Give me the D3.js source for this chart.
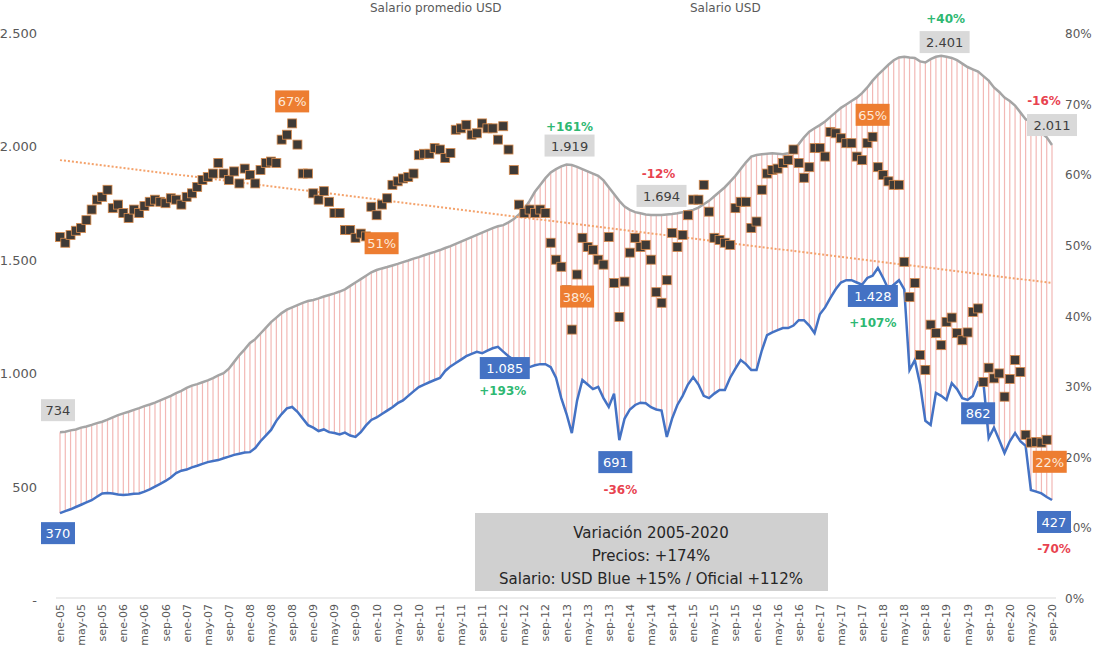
<!DOCTYPE html>
<html>
<head>
<meta charset="utf-8">
<script src="https://cdn.jsdelivr.net/npm/d3@7"></script>
<style>
body { margin: 0; background: #fff; }
text { font-family: "DejaVu Sans", sans-serif; }
</style>
</head>
<body>
<svg id="chart" width="1101" height="655"></svg>
<script>
// salario promedio USD oficial (mensual, ene-05 .. sep-20)
var oficial = [
 740,742,748,752,760,765,772,780,786,795,805,815,
 823,830,838,846,855,862,870,880,890,900,912,922,
 935,945,952,960,968,978,990,1000,1020,1050,1080,1105,
 1133,1150,1175,1200,1225,1245,1265,1280,1290,1300,1310,1318,
 1323,1330,1338,1345,1352,1360,1370,1385,1400,1415,1430,1445,
 1455,1462,1468,1475,1482,1490,1497,1505,1512,1520,1528,1535,
 1543,1552,1560,1570,1580,1590,1600,1610,1620,1630,1640,1648,
 1653,1665,1680,1700,1725,1760,1800,1830,1860,1885,1900,1912,
 1920,1918,1910,1900,1890,1880,1870,1850,1820,1790,1760,1735,
 1720,1710,1705,1700,1698,1697,1698,1700,1702,1705,1710,1715,
 1720,1730,1745,1760,1780,1800,1820,1845,1870,1900,1930,1955,
 1962,1965,1968,1970,1968,1965,1970,1985,2010,2040,2065,2080,
 2094,2110,2130,2150,2170,2185,2200,2215,2235,2260,2290,2315,
 2337,2360,2380,2392,2395,2392,2390,2375,2370,2385,2395,2400,
 2395,2390,2380,2365,2350,2340,2330,2310,2290,2260,2240,2215,
 2200,2180,2150,2120,2110,2090,2060,2040,2006
];
// salario promedio USD blue
var blue = [
 383,392,400,410,420,430,440,455,470,472,470,465,
 463,465,468,470,478,488,500,512,525,540,560,570,
 575,585,592,600,608,613,617,625,632,640,645,650,
 652,670,700,725,750,790,820,845,851,830,800,771,
 760,745,752,740,736,730,738,725,719,740,770,794,
 805,820,835,850,868,880,900,920,939,950,960,970,
 979,1010,1030,1045,1060,1075,1085,1094,1088,1100,1110,1116,
 1095,1075,1058,1040,1030,1027,1035,1040,1040,1027,980,890,
 820,736,880,970,950,930,940,890,851,910,705,800,
 840,860,870,868,850,840,835,719,800,860,900,950,
 983,950,900,890,910,926,926,980,1020,1058,1040,1014,
 1014,1100,1168,1180,1190,1199,1199,1210,1234,1234,1210,1177,
 1260,1290,1332,1370,1400,1410,1410,1400,1390,1420,1430,1464,
 1420,1370,1390,1410,1370,1014,1058,950,790,772,913,900,
 882,956,930,890,882,900,960,960,714,760,705,648,
 700,736,700,680,485,478,470,454,441
];
// ratio blue / oficial (%), eje derecho
var ratio = [
 51.1,50.3,51.4,52.0,52.4,53.5,55.0,56.4,56.8,57.8,
 55.2,55.7,54.5,53.8,55.0,54.5,55.5,56.1,56.4,56.1,55.9,56.6,56.4,55.7,56.8,57.3,
 58.2,59.2,59.6,60.1,61.6,60.1,59.2,60.4,58.7,60.8,59.9,58.7,60.6,61.6,61.8,61.6,
 64.9,65.6,67.2,64.2,60.1,60.1,57.3,56.4,57.6,56.1,54.5,54.5,52.1,52.1,51.0,51.6,
 51.2,55.4,54.2,55.7,56.6,58.5,59.0,59.4,59.6,60.1,62.7,62.9,62.9,63.7,63.5,62.3,
 63.0,66.3,66.5,67.0,65.6,65.8,67.2,66.5,66.5,64.9,66.8,63.5,60.6,
 55.7,54.5,55.0,54.5,55.0,54.5,
 50.3,47.9,46.9,43.6,38.0,45.8,51.0,49.7,49.3,47.9,47.2,51.1,44.6,39.8,44.8,48.9,
 51.0,49.7,50.0,47.9,43.3,41.8,45.0,51.7,49.7,51.4,54.2,56.4,56.4,58.5,54.7,51.0,
 50.7,50.3,50.0,55.2,56.1,56.1,52.4,53.3,57.8,60.1,60.6,60.8,61.6,62.0,63.5,61.6,
 59.5,61.0,63.7,63.7,62.5,66.0,65.8,65.1,64.4,64.4,62.5,62.0,64.4,65.3,61.0,59.9,
 59.0,58.5,58.5,47.6,42.6,44.6,34.4,32.3,38.7,37.5,35.8,39.1,39.7,37.5,36.5,37.6,
 40.5,41.0,30.6,32.6,31.1,31.8,28.5,31.0,33.7,32.0,23.1,22.0,22.1,22.0,22.4
];
var trend = [62.0, 44.6]; // tendencia lineal del ratio, inicio y fin
var leftTicks = [0, 500, 1000, 1500, 2000, 2500];
var rightTicks = [0, 10, 20, 30, 40, 50, 60, 70, 80];
var mesNames = ["ene", "may", "sep"];
var boxLines = ["Variación 2005-2020", "Precios: +174%", "Salario: USD Blue +15% / Oficial +112%"];

// etiquetas: [mes, texto, dx, dy]
var grayLabels = [[0, "734", -2, -22], [96, "1.919", 3, -19], [114, "1.694", 0, -19], [165, "2.401", 14, -17], [188, "2.011", 0, -20]];
var blueLabels = [[0, "370", -2, 20], [86, "1.085", -9, 8], [106, "691", -4, 22], [155, "1.428", -5, 28], [174, "862", 0, 31], [188, "427", 2, 22]];
var orangeLabels = [[44, "67%", 0, -22], [60, "51%", 5, 28], [98, "38%", 0, 22], [154, "65%", 0, -22], [187, "22%", 3, 22]];
var changeLabels = [[0, 96, "+161%", "#2eb872", 3, -39], [0, 114, "-12%", "#e8434f", -3, -42], [0, 165, "+40%", "#2eb872", 15, -41],
  [0, 188, "-16%", "#e8434f", -8, -45], [1, 86, "+193%", "#2eb872", -11, 30], [1, 106, "-36%", "#e8434f", 1, 49],
  [1, 155, "+107%", "#2eb872", -5, 54], [1, 188, "-70%", "#e8434f", 2, 48]];

var svg = d3.select("#chart");
var n = oficial.length;
var x = d3.scaleLinear().domain([0, n - 1]).range([60, 1052]);
var yL = d3.scaleLinear().domain([0, 2500]).range([600, 33]);
var yR = d3.scaleLinear().domain([0, 80]).range([598, 33]);

// eje izquierdo
svg.selectAll(".lt").data(leftTicks).enter().append("text")
  .attr("x", 37).attr("y", function (d) { return yL(d) + 5; })
  .attr("text-anchor", "end").attr("font-size", 13).attr("fill", "#595959")
  .text(function (d) { return d === 0 ? "-" : d3.format(",")(d).replace(",", "."); });

// eje derecho
svg.selectAll(".rt").data(rightTicks).enter().append("text")
  .attr("x", 1065).attr("y", function (d) { return yR(d) + 5; })
  .attr("font-size", 12).attr("fill", "#595959")
  .text(function (d) { return d + "%"; });

// base
svg.append("line").attr("x1", 56).attr("x2", 1056).attr("y1", yR(0)).attr("y2", yR(0))
  .attr("stroke", "#d9d9d9").attr("stroke-width", 1);

// eje x
var months = d3.range(0, n, 4);
svg.selectAll(".xt").data(months).enter().append("text")
  .attr("transform", function (d) { return "translate(" + (x(d) + 4) + ",604) rotate(-90)"; })
  .attr("text-anchor", "end").attr("font-size", 11).attr("fill", "#595959")
  .text(function (d) {
    var yr = 5 + Math.floor(d / 12);
    return mesNames[(d % 12) / 4] + "-" + (yr < 10 ? "0" + yr : yr);
  });

// barras entre oficial y blue
svg.selectAll(".bar").data(oficial).enter().append("line")
  .attr("x1", function (d, i) { return x(i); }).attr("x2", function (d, i) { return x(i); })
  .attr("y1", function (d) { return yL(d); }).attr("y2", function (d, i) { return yL(blue[i]); })
  .attr("stroke", "#f2b8b5").attr("stroke-width", 1.2);

var line = d3.line().x(function (d, i) { return x(i); });
svg.append("path").datum(oficial).attr("d", line.y(function (d) { return yL(d); }))
  .attr("fill", "none").attr("stroke", "#a5a5a5").attr("stroke-width", 2.5);
svg.append("path").datum(blue).attr("d", line.y(function (d) { return yL(d); }))
  .attr("fill", "none").attr("stroke", "#4472c4").attr("stroke-width", 2.5);

// tendencia
svg.append("line").attr("x1", x(0)).attr("x2", x(n - 1))
  .attr("y1", yR(trend[0])).attr("y2", yR(trend[1]))
  .attr("stroke", "#f4a26b").attr("stroke-width", 2).attr("stroke-dasharray", "2,2");

// ratio
svg.selectAll(".sq").data(ratio).enter().append("rect")
  .attr("x", function (d, i) { return x(i) - 4.5; }).attr("y", function (d) { return yR(d) - 4.5; })
  .attr("width", 9).attr("height", 9)
  .attr("fill", "#3f3a36").attr("stroke", "#d98b4c").attr("stroke-width", 0.8);

function boxLabel(cx, cy, txt, bg, fg) {
  var w = txt.length * 8 + 10;
  svg.append("rect").attr("x", cx - w / 2).attr("y", cy - 11).attr("width", w).attr("height", 22).attr("fill", bg);
  svg.append("text").attr("x", cx).attr("y", cy + 5).attr("text-anchor", "middle")
    .attr("font-size", 13).attr("fill", fg).text(txt);
}
grayLabels.forEach(function (d) { boxLabel(x(d[0]) + d[2], yL(oficial[d[0]]) + d[3], d[1], "#d9d9d9", "#404040"); });
blueLabels.forEach(function (d) { boxLabel(x(d[0]) + d[2], yL(blue[d[0]]) + d[3], d[1], "#4472c4", "#ffffff"); });
orangeLabels.forEach(function (d) { boxLabel(x(d[0]) + d[2], yR(ratio[d[0]]) + d[3], d[1], "#ed7d31", "#fde9d9"); });
changeLabels.forEach(function (d) {
  var v = d[0] === 0 ? oficial[d[1]] : blue[d[1]];
  svg.append("text").attr("x", x(d[1]) + d[4]).attr("y", yL(v) + d[5] + 5)
    .attr("text-anchor", "middle").attr("font-size", 12).attr("font-weight", "bold")
    .attr("fill", d[3]).text(d[2]);
});

// recuadro
svg.append("rect").attr("x", 475).attr("y", 513).attr("width", 353).attr("height", 78).attr("fill", "#d0d0d0");
svg.selectAll(".bx").data(boxLines).enter().append("text")
  .attr("x", 651).attr("y", function (d, i) { return 538 + i * 23; })
  .attr("text-anchor", "middle").attr("font-size", 15).attr("fill", "#262626")
  .text(function (d) { return d; });

// titulos de leyenda
svg.append("text").attr("x", 370).attr("y", 12).attr("font-size", 12).attr("fill", "#595959").text("Salario promedio USD");
svg.append("text").attr("x", 690).attr("y", 12).attr("font-size", 12).attr("fill", "#595959").text("Salario USD");
</script>
</body>
</html>
